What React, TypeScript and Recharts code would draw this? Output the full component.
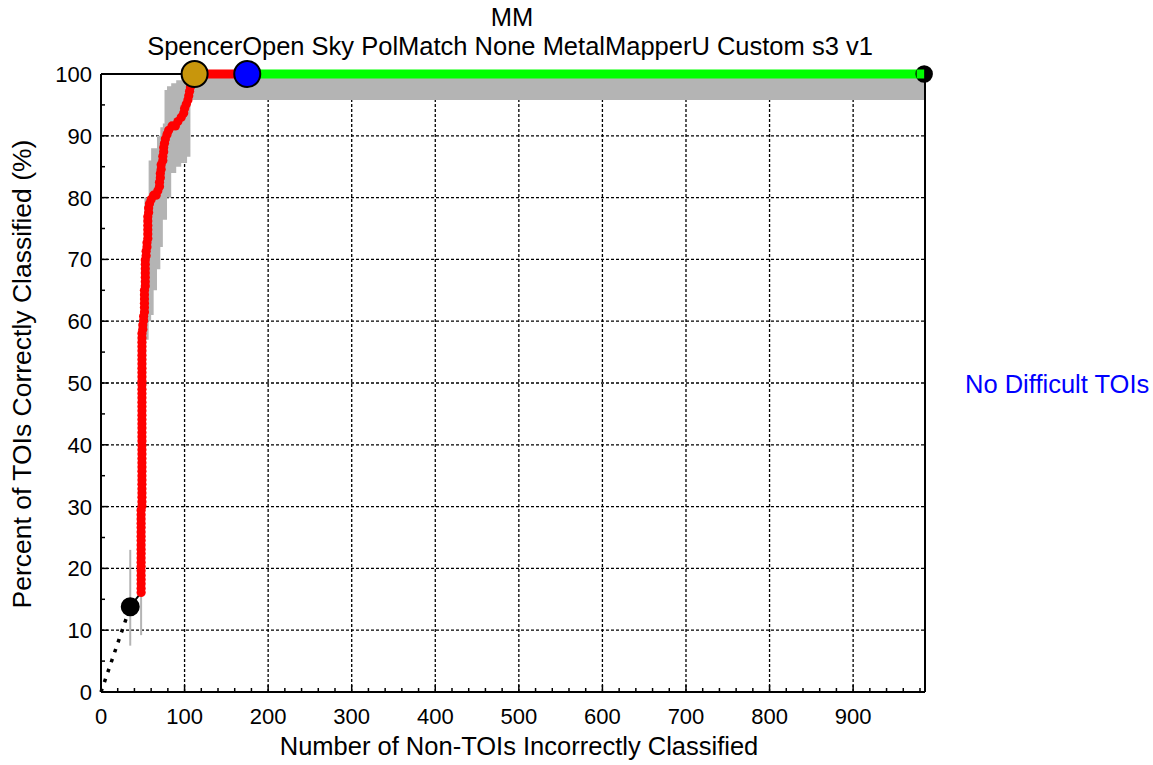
import React from 'react';
import { ComposedChart, XAxis, YAxis, Line, Area, Scatter, CartesianGrid } from 'recharts';

// ROC points [non-TOIs incorrectly classified, % TOIs correctly classified]
const redCurve: [number, number][] = [
  [48, 16.1], [48, 16.8], [48, 17.5], [48, 18.2], [48, 18.9], [48, 19.6], [48, 20.3], [48, 21.0], [48, 21.7], [48, 22.4],
  [48, 23.1], [48, 23.8], [48, 24.5], [48, 25.2], [48, 25.9], [48, 26.6], [48, 27.3], [48, 28.0], [48, 28.7], [48, 29.4],
  [49, 30.1], [49, 30.8], [49, 31.5], [49, 32.2], [49, 32.9], [49, 33.6], [49, 34.3], [49, 35.0], [49, 35.7], [49, 36.4],
  [49, 37.1], [49, 37.8], [49, 38.5], [49, 39.2], [49, 39.9], [49, 40.6], [49, 41.3], [49, 42.0], [49, 42.7], [49, 43.4],
  [49, 44.1], [49, 44.8], [49, 45.5], [49, 46.2], [49, 46.9], [49, 47.6], [49, 48.3], [49, 49.0], [49, 49.7], [49, 50.3],
  [49, 51.0], [49, 51.7], [49, 52.4], [49, 53.1], [49, 53.8], [49, 54.5], [49, 55.2], [49, 55.9], [49, 56.6], [49, 57.3],
  [49, 58.0], [50, 58.7], [50, 59.4], [51, 60.1], [51, 60.8], [52, 61.5], [52, 62.2], [52, 62.9], [52, 63.6], [52, 64.3],
  [52, 65.0], [53, 65.7], [53, 66.4], [53, 67.1], [53, 67.8], [53, 68.5], [53, 69.2], [53, 69.9], [54, 70.6], [54, 71.3],
  [55, 72.0], [55, 72.7], [56, 73.4], [56, 74.1], [56, 74.8], [56, 75.5], [56, 76.2], [56, 76.9], [57, 77.6], [57, 78.3],
  [58, 79.0], [60, 79.7], [63, 80.4], [66, 80.4], [68, 81.1], [70, 81.8], [70, 82.5], [71, 83.2], [71, 83.9], [72, 84.6],
  [72, 85.3], [74, 86.0], [74, 86.7], [75, 87.4], [75, 88.1], [76, 88.8], [77, 89.5], [79, 90.2], [81, 90.9], [85, 91.6],
  [89, 91.6], [92, 92.3], [96, 93.0], [99, 93.7], [100, 94.4], [102, 95.1], [104, 95.8], [105, 96.5], [106, 97.2], [107, 97.9],
  [108, 98.6], [110, 99.3],
];

// gray confidence envelope
const bandX = [49, 51, 52, 54, 57, 60, 63, 67, 71, 74, 76, 79, 84, 90, 96, 103, 107, 985];
const bandLo = [16, 40, 50, 57, 60, 61, 65, 68.4, 72, 76.4, 76.4, 80, 84, 85, 85.6, 86.6, 95.8, 95.8];
const bandHi = [58, 72, 80, 80, 86, 88, 88, 90, 91.4, 92, 97.4, 98, 98.5, 99, 100, 100, 100, 100];

// single thin error bars at the low end
const barX = [35, 48];
const barLo = [7.5, 9.2];
const barHi = [23, 16];

const startPt = { x: 35, y: 13.8 };
const goldPt = { x: 112, y: 100 };
const bluePt = { x: 175, y: 100 };
const endPt = { x: 985, y: 100 };

const xMin = 0;
const xMax = 986;
const yMax = 100;
const xMajor = [100, 200, 300, 400, 500, 600, 700, 800, 900];
const xTicks = [0, 20, 40, 60, 80, 100, 120, 140, 160, 180, 200, 220, 240, 260, 280, 300, 320, 340, 360, 380, 400, 420, 440, 460, 480, 500, 520, 540, 560, 580, 600, 620, 640, 660, 680, 700, 720, 740, 760, 780, 800, 820, 840, 860, 880, 900, 920, 940, 960, 980];
const yMajor = [10, 20, 30, 40, 50, 60, 70, 80, 90];
const yTicks = [0, 5, 10, 15, 20, 25, 30, 35, 40, 45, 50, 55, 60, 65, 70, 75, 80, 85, 90, 95, 100];

const FONT = '"Liberation Sans", Arial, sans-serif';
const TICK_FS = 22;
const LABEL_FS = 25.5;

const curveData = redCurve.map(([x, y]) => ({ x, y }));
const bandData = bandX.map((x, i) => ({ x, band: [bandLo[i], bandHi[i]] }));

const BottomTick = (p: any) => {
  const v = p.payload.value;
  const major = v % 100 === 0;
  return (
    <g>
      <line x1={p.x} x2={p.x} y1={p.y} y2={p.y - (major ? 7 : 4)} stroke="#000" strokeWidth={1.5} />
      {major && v <= 900 && (
        <text x={p.x} y={p.y + 32} textAnchor="middle" fontSize={TICK_FS} fontFamily={FONT} fill="#000">{v}</text>
      )}
    </g>
  );
};
const TopTick = (p: any) => {
  const major = p.payload.value % 100 === 0;
  return <line x1={p.x} x2={p.x} y1={p.y} y2={p.y + (major ? 7 : 4)} stroke="#000" strokeWidth={1.5} />;
};
const LeftTick = (p: any) => {
  const v = p.payload.value;
  const major = v % 10 === 0;
  return (
    <g>
      <line x1={p.x} x2={p.x + (major ? 7 : 4)} y1={p.y} y2={p.y} stroke="#000" strokeWidth={1.5} />
      {major && (
        <text x={p.x - 9} y={p.y + 8} textAnchor="end" fontSize={TICK_FS} fontFamily={FONT} fill="#000">{v}</text>
      )}
    </g>
  );
};
const RightTick = (p: any) => {
  const major = p.payload.value % 10 === 0;
  return <line x1={p.x} x2={p.x - (major ? 7 : 4)} y1={p.y} y2={p.y} stroke="#000" strokeWidth={1.5} />;
};

const marker = (r: number, fill: string) => (p: any) => (
  <circle cx={p.cx} cy={p.cy} r={r} fill={fill} stroke="#000" strokeWidth={2} />
);
const endMarker = (p: any) => (
  <g>
    <circle cx={p.cx} cy={p.cy} r={7.5} fill="#000" stroke="#000" strokeWidth={2.5} />
    <rect x={p.cx - 7.5} y={p.cy - 4.5} width={7.5} height={9} fill="#00ff00" />
  </g>
);

const axisLine = { stroke: '#000', strokeWidth: 2 };

const label = (text: string, cx: number, cy: number, extra: React.CSSProperties = {}) => (
  <div
    style={{
      position: 'absolute', left: cx, top: cy, transform: 'translate(-50%, -50%)',
      whiteSpace: 'nowrap', lineHeight: 1, fontSize: LABEL_FS, fontFamily: FONT, color: '#000', ...extra,
    }}
  >
    {text}
  </div>
);

export default function App() {
  return (
    <div style={{ position: 'absolute', left: 0, top: 0, width: 1153, height: 765, background: '#fff' }}>
      <ComposedChart width={1153} height={765} margin={{ top: 73, right: 227, bottom: 33, left: 41 }}>
        <CartesianGrid
          verticalValues={xMajor}
          horizontalValues={yMajor}
          stroke="#000"
          strokeDasharray="3 2"
          strokeWidth={1.3}
        />
        <XAxis dataKey="x" type="number" domain={[xMin, xMax]} ticks={xTicks} interval={0} height={40}
          tickSize={0} tickMargin={0} tickLine={false} axisLine={axisLine} tick={<BottomTick />} />
        <XAxis xAxisId="top" orientation="top" dataKey="x" type="number" domain={[xMin, xMax]} ticks={xTicks} interval={0}
          height={1} tickSize={0} tickMargin={0} tickLine={false} axisLine={false} tick={<TopTick />} />
        <YAxis type="number" domain={[0, yMax]} ticks={yTicks} interval={0} width={60}
          tickSize={0} tickMargin={0} tickLine={false} axisLine={axisLine} tick={<LeftTick />} />
        <YAxis yAxisId="right" orientation="right" type="number" domain={[0, yMax]} ticks={yTicks} interval={0} width={1}
          tickSize={0} tickMargin={0} tickLine={false} axisLine={axisLine} tick={<RightTick />} />

        <Area data={bandData} dataKey="band" type="stepAfter" fill="#b4b4b4" fillOpacity={1} stroke="none" isAnimationActive={false} />
        {/* top frame edge, drawn under the curves */}
        <Line data={[{ x: xMin, y: yMax }, { x: xMax, y: yMax }]} dataKey="y" stroke="#000" strokeWidth={2} dot={false} isAnimationActive={false} />
        {barX.map((x, i) => (
          <Line key={'bar' + i} data={[{ x, y: barLo[i] }, { x, y: barHi[i] }]} dataKey="y" stroke="#b4b4b4" strokeWidth={2} dot={false} isAnimationActive={false} />
        ))}
        <Line data={[{ x: 0, y: 0 }, startPt]} dataKey="y" stroke="#000" strokeWidth={3.5} strokeDasharray="3.5 7" dot={false} isAnimationActive={false} />
        <Line data={[startPt, curveData[0]]} dataKey="y" stroke="#000" strokeWidth={2} dot={false} isAnimationActive={false} />
        <Line data={curveData} dataKey="y" stroke="#ff0000" strokeWidth={3} dot={{ r: 4.6, fill: '#ff0000', stroke: 'none' }} isAnimationActive={false} />
        <Line data={[goldPt, bluePt]} dataKey="y" stroke="#ff0000" strokeWidth={9} dot={false} isAnimationActive={false} />
        <Line data={[bluePt, endPt]} dataKey="y" stroke="#00ff00" strokeWidth={9} dot={false} isAnimationActive={false} />

        <Scatter data={[endPt]} dataKey="y" shape={endMarker} isAnimationActive={false} />
        <Scatter data={[goldPt]} dataKey="y" shape={marker(13, '#c8960c')} isAnimationActive={false} />
        <Scatter data={[bluePt]} dataKey="y" shape={marker(13, '#0000ff')} isAnimationActive={false} />
        <Scatter data={[startPt]} dataKey="y" shape={marker(8.5, '#000')} isAnimationActive={false} />
      </ComposedChart>

      {label('MM', 512, 18)}
      {label('SpencerOpen Sky PolMatch None MetalMapperU Custom s3 v1', 510, 47)}
      {label('Number of Non-TOIs Incorrectly Classified', 519, 747)}
      {label('Percent of TOIs Correctly Classified (%)', 22, 374, { fontSize: 26.5, transform: 'translate(-50%, -50%) rotate(-90deg)' })}
      <div style={{ position: 'absolute', left: 965, top: 385, transform: 'translateY(-50%)', lineHeight: 1, fontSize: LABEL_FS, fontFamily: FONT, color: '#0000ff', whiteSpace: 'nowrap' }}>
        No Difficult TOIs
      </div>
    </div>
  );
}
